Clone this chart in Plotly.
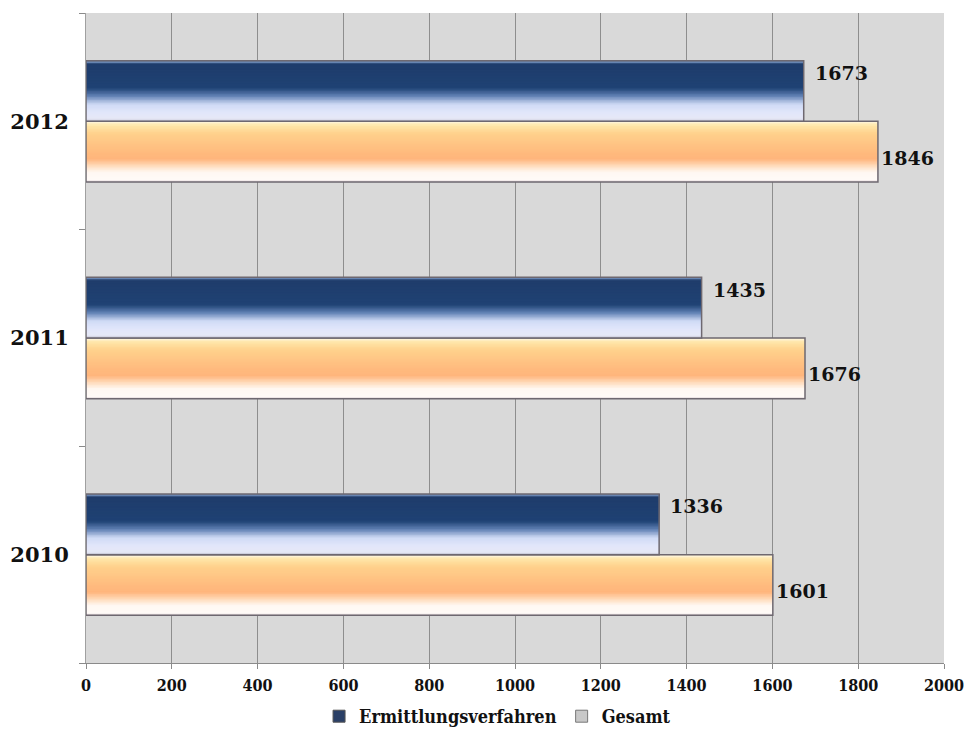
import plotly.graph_objects as go

years = ["2010", "2011", "2012"]
ermittlung = [1336, 1435, 1673]
gesamt = [1601, 1676, 1846]
x_ticks = [0, 200, 400, 600, 800, 1000, 1200, 1400, 1600, 1800, 2000]
series_names = ["Ermittlungsverfahren", "Gesamt"]

BAR_W = 0.28
N = 40
CAT_PX = 650 / 3.0

blue_stops = [(0.0, "#7f9cc8"), (0.05, "#1f3c6b"), (0.45, "#1f4274"), (0.58, "#5f7fb2"),
              (0.72, "#cfdaf5"), (0.85, "#e1e6fa"), (0.96, "#e6e8f6"), (1.0, "#b8b8c8")]
orange_stops = [(0.0, "#fff6dc"), (0.07, "#ffe6a8"), (0.2, "#ffd18c"), (0.5, "#ffbb7e"),
                (0.62, "#ffb57c"), (0.75, "#ffe0c4"), (0.84, "#fff8f2"), (0.97, "#fffaf7"), (1.0, "#d8ccd0")]


def hex2rgb(h):
    h = h.lstrip("#")
    return tuple(int(h[i:i + 2], 16) for i in (0, 2, 4))


def interp(stops, t):
    for (t0, c0), (t1, c1) in zip(stops[:-1], stops[1:]):
        if t0 <= t <= t1:
            a = 0 if t1 == t0 else (t - t0) / (t1 - t0)
            r0, r1 = hex2rgb(c0), hex2rgb(c1)
            return "rgb(%d,%d,%d)" % tuple(round(r0[i] + (r1[i] - r0[i]) * a) for i in range(3))
    return stops[-1][1]


fig = go.Figure()


def add_gradient_bar(values, base_offset, stops):
    w = BAR_W / N
    for k in range(N):
        # each stripe reaches from its own lower edge up to the top of the bar;
        # later stripes cover the upper part of earlier ones (no seams)
        t = 1 - (k + 0.5) / N
        fig.add_trace(go.Bar(
            y=years, x=values, orientation="h",
            offset=base_offset + k * w, width=BAR_W - k * w,
            marker=dict(color=interp(stops, t), line=dict(width=0)),
            showlegend=False, hoverinfo="skip"))
    fig.add_trace(go.Bar(
        y=years, x=values, orientation="h",
        offset=base_offset, width=BAR_W,
        marker=dict(color="rgba(0,0,0,0)", line=dict(color="#6e6870", width=1.5)),
        showlegend=False, hoverinfo="skip"))


add_gradient_bar(gesamt, -BAR_W, orange_stops)
add_gradient_bar(ermittlung, 0.0, blue_stops)

label_font = dict(family="DejaVu Serif", size=19, color="#111111", weight="bold")
for i, v in enumerate(ermittlung):
    fig.add_annotation(x=v, y=i, text=str(v), showarrow=False, xanchor="left",
                       yanchor="middle", xshift=9, yshift=BAR_W / 2 * CAT_PX + 18,
                       font=label_font)
for i, v in enumerate(gesamt):
    fig.add_annotation(x=v, y=i, text=str(v), showarrow=False, xanchor="left",
                       yanchor="middle", xshift=1, yshift=-BAR_W / 2 * CAT_PX - 6,
                       font=label_font)

# legend entries
fig.add_trace(go.Bar(y=[None], x=[None], orientation="h", name=series_names[0],
                     marker=dict(color="#2a3f66", line=dict(color="#555", width=1))))
fig.add_trace(go.Bar(y=[None], x=[None], orientation="h", name=series_names[1],
                     marker=dict(color="#c8c8c8", line=dict(color="#777", width=1))))

fig.update_layout(
    width=968, height=735,
    margin=dict(l=86, r=24, t=13, b=72, autoexpand=False),
    barmode="overlay",
    paper_bgcolor="white",
    plot_bgcolor="#d9d9d9",
    showlegend=True,
    legend=dict(orientation="h", xref="container", yref="container",
                x=0.514, xanchor="center", y=0.0, yanchor="bottom",
                font=dict(family="DejaVu Serif Condensed", size=18, color="#111", weight="bold"),
                itemwidth=30, bgcolor="rgba(0,0,0,0)"),
    xaxis=dict(range=[0, 2000], tickvals=x_ticks, ticktext=[str(v) for v in x_ticks],
               showgrid=True, gridcolor="#8e8e8e", gridwidth=1,
               showline=True, linecolor="#8a8a8a", linewidth=1,
               ticks="outside", ticklen=5, tickcolor="#8a8a8a",
               tickfont=dict(family="DejaVu Serif Condensed", size=16, color="#111", weight="bold"),
               ticklabelstandoff=3, automargin=False,
               zeroline=False, mirror=False),
    yaxis=dict(type="category", categoryorder="array", categoryarray=years,
               range=[-0.5, 2.5],
               showgrid=False, showline=True, linecolor="#a0a0a0", linewidth=1,
               ticks="outside", tickson="boundaries", ticklen=6, tickcolor="#8a8a8a",
               tickfont=dict(family="DejaVu Serif", size=21, color="#111", weight="bold"),
               ticklabelstandoff=12, automargin=False),
    bargap=0.44,
)

# remove the browser's default 8px page margin so the figure fills the window exactly
fig.write_html("out.html", config={"displayModeBar": False},
               post_script="document.body.style.margin='0';")
